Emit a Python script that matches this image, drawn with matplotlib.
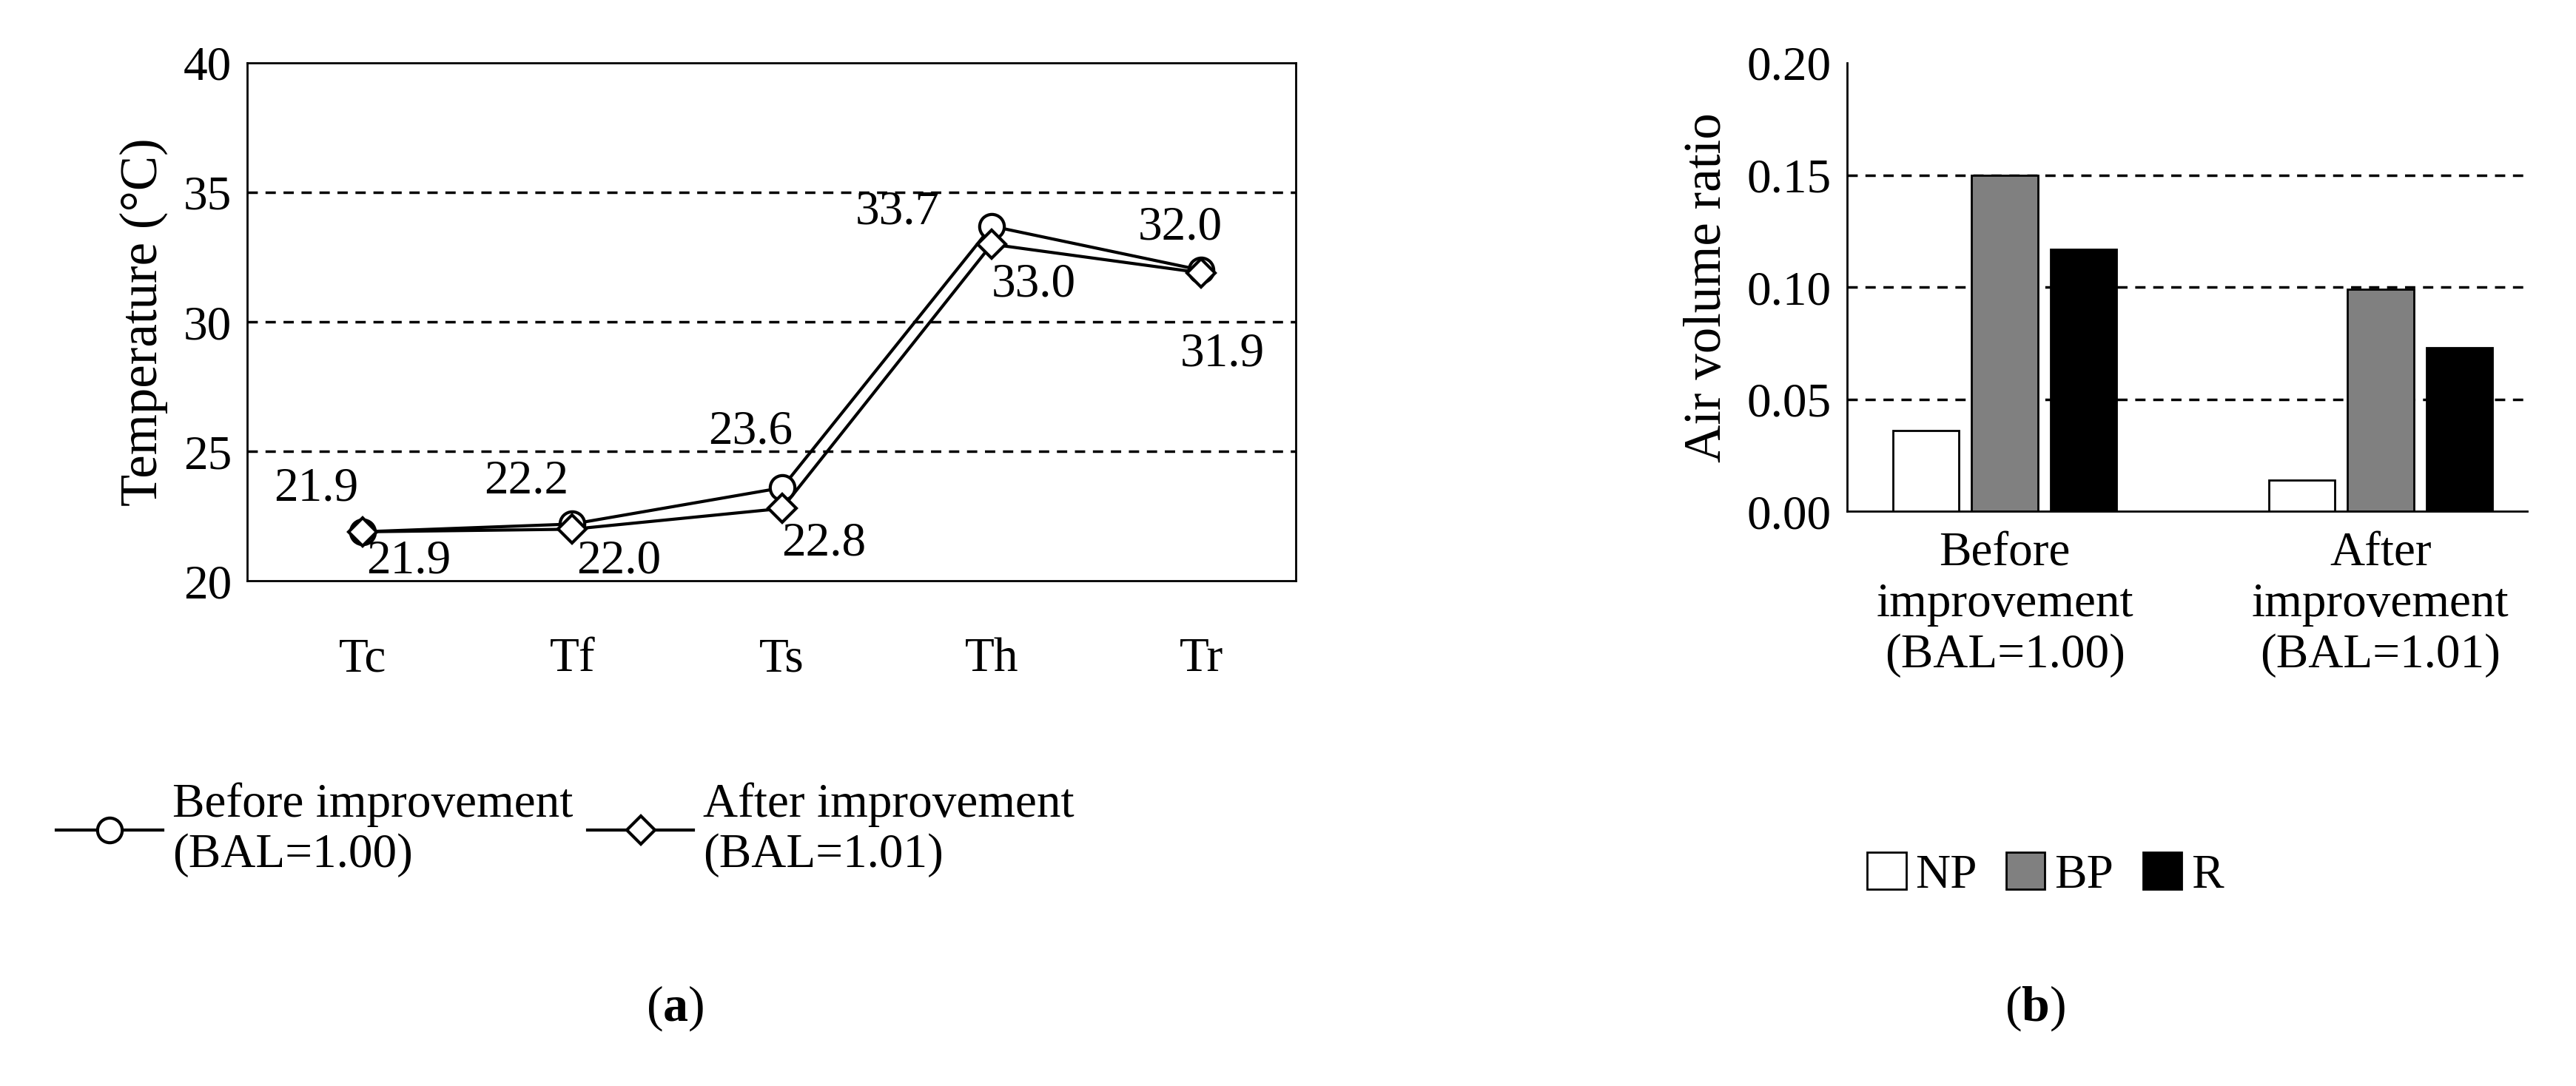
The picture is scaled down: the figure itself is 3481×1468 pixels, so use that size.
import matplotlib
matplotlib.use("Agg")
import matplotlib.pyplot as plt
import numpy as np
from matplotlib.patches import Patch
from matplotlib.lines import Line2D

plt.rcParams['font.family'] = ['Liberation Serif', 'DejaVu Serif']
plt.rcParams['mathtext.fontset'] = 'custom'
plt.rcParams['mathtext.bf'] = 'Liberation Serif:bold'
plt.rcParams['mathtext.rm'] = 'Liberation Serif'
FS = 47

points = ['Tc', 'Tf', 'Ts', 'Th', 'Tr']
before = [21.9, 22.2, 23.6, 33.7, 32.0]
after = [21.9, 22.0, 22.8, 33.0, 31.9]
line_labels = ['Before improvement\n(BAL=1.00)', 'After improvement\n(BAL=1.01)']

groups = ['Before\nimprovement\n(BAL=1.00)', 'After\nimprovement\n(BAL=1.01)']
bar_series = ['NP', 'BP', 'R']
NP = [0.036, 0.014]
BP = [0.150, 0.099]
R = [0.117, 0.073]
bar_colors = ['white', '#808080', 'black']

fig = plt.figure(figsize=(34.81, 14.68), dpi=100)

# (a)
ax = fig.add_axes([0.096, 0.465, 0.407, 0.477])
x = np.arange(len(points))
ax.plot(x, before, color='black', lw=3, marker='o', ms=24, mfc='white', mec='black', mew=3, zorder=3)
ax.plot(x, after, color='black', lw=3, marker='D', ms=19, mfc='white', mec='black', mew=3, zorder=4)
ax.set_xlim(-0.55, 4.45)
ax.set_ylim(20, 40)
ax.set_yticks([20, 25, 30, 35, 40])
for yv in [25, 30, 35]:
    ax.axhline(yv, color='black', ls=(0, (4, 3)), lw=2.5, zorder=1)
ax.set_xticks(x)
ax.set_xticklabels(points)
ax.tick_params(axis='both', length=0, labelsize=FS)
ax.tick_params(axis='x', pad=55)
ax.tick_params(axis='y', pad=15)
for s in ax.spines.values():
    s.set_linewidth(2)
ax.set_ylabel('Temperature (°C)', fontsize=FS + 4, labelpad=15)
boff = [(-0.22, 0.8), (-0.22, 0.8), (-0.15, 1.3), (-0.45, -0.3), (-0.1, 0.8)]
aoff = [(0.22, -2.0), (0.22, -2.1), (0.2, -2.2), (0.2, -2.4), (0.1, -4.0)]
for i in range(5):
    ax.text(x[i] + boff[i][0], before[i] + boff[i][1], f'{before[i]:.1f}', fontsize=FS,
            ha='center', va='bottom', zorder=5)
    ax.text(x[i] + aoff[i][0], after[i] + aoff[i][1], f'{after[i]:.1f}', fontsize=FS,
            ha='center', va='bottom', zorder=5)
handles = [Line2D([], [], color='black', lw=3, marker='o', ms=24, mfc='white', mew=3),
           Line2D([], [], color='black', lw=3, marker='D', ms=19, mfc='white', mew=3)]
fig.legend(handles, line_labels, loc='upper left', bbox_to_anchor=(0.005, 0.32), ncol=2,
           frameon=False, fontsize=FS, handlelength=2.2, handletextpad=0.2, columnspacing=0.3)
fig.text(0.262, 0.06, r'($\mathbf{a}$)', fontsize=FS + 2, ha='center')

# (b)
bx = fig.add_axes([0.717, 0.529, 0.264, 0.413])
gx = np.arange(len(groups))
w = 0.21
for k, (vals, c) in enumerate(zip([NP, BP, R], bar_colors)):
    bx.bar(gx + (k - 1) * w, vals, 0.176, color=c, edgecolor='black', lw=2, zorder=3)
bx.set_xlim(-0.42, 1.39)
bx.set_ylim(0, 0.2)
bx.set_yticks([0, 0.05, 0.10, 0.15, 0.20])
bx.set_yticklabels(['0.00', '0.05', '0.10', '0.15', '0.20'])
for yv in [0.05, 0.10, 0.15]:
    bx.axhline(yv, color='black', ls=(0, (4, 3)), lw=2.5, zorder=1)
bx.set_xticks(gx)
bx.set_xticklabels(groups, linespacing=1.2)
bx.tick_params(axis='both', length=0, labelsize=FS)
bx.tick_params(axis='x', pad=20)
bx.tick_params(axis='y', pad=15)
bx.spines['top'].set_visible(False)
bx.spines['right'].set_visible(False)
for s in ['left', 'bottom']:
    bx.spines[s].set_linewidth(2)
bx.set_ylabel('Air volume ratio', fontsize=FS + 4, labelpad=15)
ph = [Patch(facecolor=c, edgecolor='black', lw=2) for c in bar_colors]
fig.legend(ph, bar_series, loc='upper left', bbox_to_anchor=(0.708, 0.255), ncol=3,
           frameon=False, fontsize=FS, handlelength=0.8, handleheight=0.8,
           handletextpad=0.2, columnspacing=0.6)
fig.text(0.79, 0.06, r'($\mathbf{b}$)', fontsize=FS + 2, ha='center')

fig.savefig('out.png', dpi=100, facecolor='white')
